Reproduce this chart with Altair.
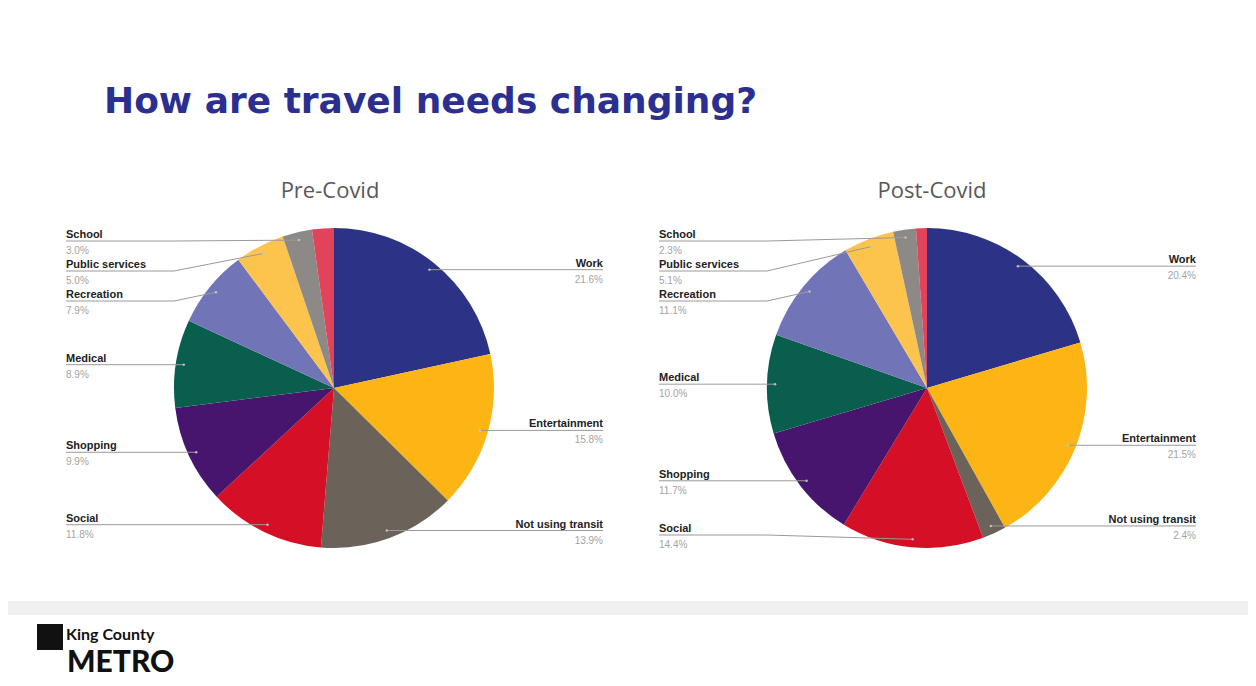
import math
import altair as alt
import pandas as pd

# ---------------- data ----------------
categories = ["Work", "Entertainment", "Not using transit", "Social", "Shopping",
              "Medical", "Recreation", "Public services", "School", "Other"]
pre_values = [21.6, 15.8, 13.9, 11.8, 9.9, 8.9, 7.9, 5.0, 3.0, 2.2]
post_values = [20.4, 21.5, 2.4, 14.4, 11.7, 10.0, 11.1, 5.1, 2.3, 1.1]
shown = [True, True, True, True, True, True, True, True, True, False]
panel_titles = ["Pre-Covid", "Post-Covid"]
main_title = "How are travel needs changing?"
logo_small = "King County"
logo_big = "METRO"

colors = ["#2c3285", "#fdb515", "#6b6259", "#d50f25", "#48156e",
          "#0a5e4e", "#7274b8", "#fcc44d", "#8c8987", "#e0435a"]

# ---------------- layout (page pixels) ----------------
M = 8
W, H = 1240, 670
centers = [(334, 388), (927, 388)]
R = 160
ANCHOR = 0.95 * R
LABEL_DX_LEFT = 268
LABEL_DX_RIGHT = 269
TOP_Y, BOT_Y, GAP = 241, 535, 30

sx = alt.Scale(domain=[M, M + W], zero=False, nice=False)
sy = alt.Scale(domain=[M + H, M], zero=False, nice=False)
X = lambda f: alt.X(f, type="quantitative", scale=sx, axis=None)
Y = lambda f: alt.Y(f, type="quantitative", scale=sy, axis=None)

pie_frames, label_rows, line_rows = [], [], []
for p, (vals, (cx, cy)) in enumerate(zip([pre_values, post_values], centers)):
    total = sum(vals)
    df = pd.DataFrame({"cat": categories, "value": vals, "idx": range(len(vals)),
                       "cx": cx, "cy": cy})
    pie_frames.append(df)
    cum = 0.0
    items = []
    for i, (c, v) in enumerate(zip(categories, vals)):
        a0 = cum / total * 2 * math.pi
        cum += v
        a1 = cum / total * 2 * math.pi
        if not shown[i]:
            continue
        mid = (a0 + a1) / 2
        ax = cx + ANCHOR * math.sin(mid)
        ay = cy - ANCHOR * math.cos(mid)
        side = "right" if mid < math.pi else "left"
        items.append(dict(cat=c, value=v, ax=ax, ay=ay, side=side))
    for side in ["left", "right"]:
        grp = sorted([d for d in items if d["side"] == side], key=lambda d: d["ay"])
        prev = -1e9
        for d in grp:
            d["ly"] = max(d["ay"], prev + GAP, TOP_Y)
            prev = d["ly"]
        nxt = 1e9
        for d in reversed(grp):
            d["ly"] = min(d["ly"], nxt - GAP, BOT_Y)
            nxt = d["ly"]
        for d in grp:
            key = f"{p}-{d['cat']}"
            if side == "left":
                lx = cx - LABEL_DX_LEFT
                kx = min(d["ax"], cx - R)
            else:
                lx = cx + LABEL_DX_RIGHT
                kx = max(d["ax"], cx + R)
            label_rows.append(dict(key=key, name=d["cat"], pct=f"{d['value']:.1f}%",
                                   lx=lx, ny=d["ly"] - 3, py=d["ly"] + 13, side=side))
            for s, (xx, yy) in enumerate([(lx, d["ly"]), (kx, d["ly"]), (d["ax"], d["ay"])]):
                line_rows.append(dict(key=key, seq=s, x=xx, y=yy))

labels = pd.DataFrame(label_rows)
lines = pd.DataFrame(line_rows)
dots = lines[lines["seq"] == 2]

color_scale = alt.Scale(domain=categories, range=colors)

pies = []
for df in pie_frames:
    pies.append(
        alt.Chart(df).mark_arc(radius=R).encode(
            x=X("cx"), y=Y("cy"),
            theta=alt.Theta("value:Q", stack=True),
            color=alt.Color("cat:N", scale=color_scale, legend=None),
            order=alt.Order("idx:Q"),
        )
    )

leader = alt.Chart(lines).mark_line(color="#9a9a9a", strokeWidth=1).encode(
    x=X("x"), y=Y("y"), detail="key:N", order="seq:Q")
dot = alt.Chart(dots).mark_circle(size=6, color="#c8c8c8", opacity=0.9).encode(
    x=X("x"), y=Y("y"))

name_layers, pct_layers = [], []
for al in ["left", "right"]:
    sub = labels[labels["side"] == al]
    name_layers.append(alt.Chart(sub).mark_text(
        align=al, baseline="alphabetic", font="Liberation Sans", fontSize=11,
        fontWeight="bold", color="#222222").encode(x=X("lx"), y=Y("ny"), text="name:N"))
    pct_layers.append(alt.Chart(sub).mark_text(
        align=al, baseline="alphabetic", font="Liberation Sans", fontSize=10,
        color="#a3a3a3").encode(x=X("lx"), y=Y("py"), text="pct:N"))

titles_df = pd.DataFrame({"t": panel_titles, "x": [330, 932], "y": [198, 198]})
ptitles = alt.Chart(titles_df).mark_text(
    font="Open Sans", fontSize=22, color="#595959", align="center",
    baseline="alphabetic").encode(x=X("x"), y=Y("y"), text="t:N")

main_df = pd.DataFrame({"t": [main_title], "x": [104], "y": [113]})
mtitle = alt.Chart(main_df).mark_text(
    font="DejaVu Sans", fontSize=36, fontWeight="bold", color="#2b2f8f",
    align="left", baseline="alphabetic").encode(x=X("x"), y=Y("y"), text="t:N")

band_df = pd.DataFrame({"x": [M], "x2": [M + W], "y": [601], "y2": [615]})
band = alt.Chart(band_df).mark_rect(color="#f0f0f0").encode(
    x=X("x"), x2="x2", y=Y("y"), y2="y2")

icon_df = pd.DataFrame({"x": [37], "x2": [63], "y": [624], "y2": [650]})
icon = alt.Chart(icon_df).mark_rect(color="#111111").encode(
    x=X("x"), x2="x2", y=Y("y"), y2="y2")
logo1 = alt.Chart(pd.DataFrame({"t": [logo_small], "x": [66], "y": [640]})).mark_text(
    font="Lato", fontSize=16, fontWeight="bold", color="#111111", align="left",
    baseline="alphabetic").encode(x=X("x"), y=Y("y"), text="t:N")
logo2 = alt.Chart(pd.DataFrame({"t": [logo_big], "x": [67], "y": [672]})).mark_text(
    font="Lato", fontSize=30, fontWeight=900, color="#111111", align="left",
    baseline="alphabetic").encode(x=X("x"), y=Y("y"), text="t:N")

chart = alt.layer(
    band, *pies, leader, dot, *name_layers, *pct_layers, ptitles, mtitle, icon, logo1, logo2
).resolve_scale(theta="independent").properties(
    width=W, height=H, padding=0, autosize="none"
).configure_view(stroke=None)

chart.save("out.html", embed_options={"renderer": "svg", "actions": False})
